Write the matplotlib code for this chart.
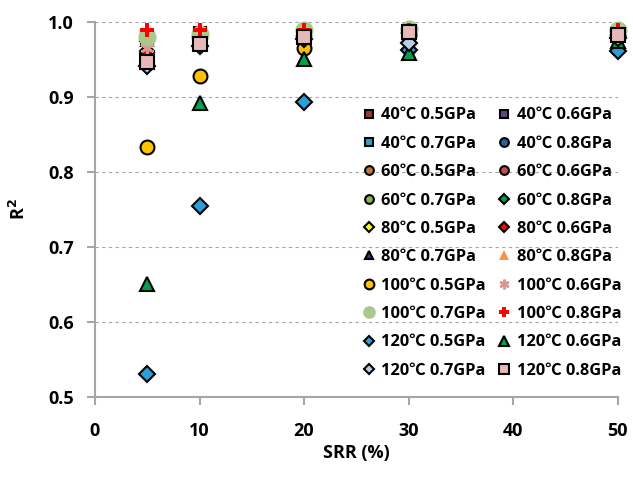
import numpy as np
import matplotlib
matplotlib.use('Agg')
import matplotlib.pyplot as plt

plt.rcParams['font.family'] = ['Open Sans', 'Noto Sans CJK SC', 'DejaVu Sans']
plt.rcParams['font.weight'] = 'bold'

# SRR (%)
srr = [5, 10, 20, 30, 50]

# R2 valori (serie coperte stimate sotto i marker visibili)
r_40_05 = [0.980, 0.985, 0.985, 0.988, 0.985]
r_40_06 = [0.978, 0.983, 0.984, 0.987, 0.984]
r_40_07 = [0.979, 0.984, 0.986, 0.988, 0.985]
r_40_08 = [0.981, 0.985, 0.986, 0.989, 0.986]
r_60_05 = [0.978, 0.982, 0.983, 0.986, 0.984]
r_60_06 = [0.979, 0.983, 0.985, 0.987, 0.985]
r_60_07 = [0.982, 0.986, 0.988, 0.990, 0.987]
r_60_08 = [0.975, 0.980, 0.982, 0.986, 0.983]
r_80_05 = [0.959, 0.978, 0.980, 0.985, 0.982]
r_80_06 = [0.962, 0.980, 0.982, 0.986, 0.983]
r_80_07 = [0.976, 0.981, 0.983, 0.986, 0.984]
r_80_08 = [0.977, 0.982, 0.984, 0.987, 0.984]
r_100_05 = [0.834, 0.928, 0.966, 0.983, 0.982]
r_100_06 = [0.966, 0.978, 0.981, 0.985, 0.983]
r_100_07 = [0.980, 0.984, 0.990, 0.991, 0.990]
r_100_08 = [0.989, 0.990, 0.989, 0.990, 0.989]
r_120_05 = [0.530, 0.755, 0.893, 0.963, 0.961]
r_120_06 = [0.650, 0.892, 0.951, 0.959, 0.975]
r_120_07 = [0.942, 0.968, 0.977, 0.972, 0.979]
r_120_08 = [0.947, 0.971, 0.980, 0.987, 0.983]

serie = [
    ('40℃ 0.5GPa', r_40_05, 's', '#953735', 'k', 9),
    ('40℃ 0.6GPa', r_40_06, 's', '#604A7B', 'k', 9),
    ('40℃ 0.7GPa', r_40_07, 's', '#31A0C0', 'k', 9),
    ('40℃ 0.8GPa', r_40_08, 'o', '#2F5F98', 'k', 9),
    ('60℃ 0.5GPa', r_60_05, 'o', '#C8783A', 'k', 9),
    ('60℃ 0.6GPa', r_60_06, 'o', '#C0504D', 'k', 9),
    ('60℃ 0.7GPa', r_60_07, 'o', '#8EB050', 'k', 9),
    ('60℃ 0.8GPa', r_60_08, 'D', '#00A050', 'k', 7),
    ('80℃ 0.5GPa', r_80_05, 'D', '#FFFF00', 'k', 7),
    ('80℃ 0.6GPa', r_80_06, 'D', '#FF0000', 'k', 7),
    ('80℃ 0.7GPa', r_80_07, '^', '#1F3D99', 'k', 9),
    ('80℃ 0.8GPa', r_80_08, '^', '#F79646', 'none', 10),
    ('100℃ 0.5GPa', r_100_05, 'o', '#FFC000', 'k', 10),
    ('100℃ 0.6GPa', r_100_06, (6, 2, 0), '#D99694', '#D99694', 10),
    ('100℃ 0.7GPa', r_100_07, 'o', '#A9C98A', 'none', 13),
    ('100℃ 0.8GPa', r_100_08, 'P', '#FF0000', 'none', 10),
    ('120℃ 0.5GPa', r_120_05, 'D', '#2A9FD8', 'k', 8),
    ('120℃ 0.6GPa', r_120_06, '^', '#00A050', 'k', 10),
    ('120℃ 0.7GPa', r_120_07, 'D', '#B9CDE5', 'k', 8),
    ('120℃ 0.8GPa', r_120_08, 's', '#E6B9B8', 'k', 10),
]

fig = plt.figure(figsize=(6.33, 4.8), dpi=100)
ax = fig.add_axes([0.150, 0.173, 0.826, 0.781])

handles = []
for nome, val, mk, fc, ec, ms in serie:
    mew = 1.5 if ec != 'none' else 0
    if mk == (6, 2, 0):
        mew = 1.8
    h, = ax.plot(srr, val, linestyle='none', marker=mk, markersize=ms,
                 markerfacecolor=fc, markeredgecolor=ec, markeredgewidth=mew,
                 label=nome, clip_on=False)
    handles.append(h)

ax.set_xlim(0, 50)
ax.set_ylim(0.5, 1.0)
ax.set_xticks([0, 10, 20, 30, 40, 50])
ax.set_yticks([0.5, 0.6, 0.7, 0.8, 0.9, 1.0])
ax.set_yticklabels(['0.5', '0.6', '0.7', '0.8', '0.9', '1.0'])
ax.tick_params(labelsize=13, length=6, width=1.5, color='#A6A6A6')
ax.tick_params(axis='x', pad=12)
ax.tick_params(axis='y', pad=9)
for t in ax.get_xticklabels() + ax.get_yticklabels():
    t.set_fontweight('bold')
ax.yaxis.grid(True, linestyle=(0, (3, 3)), color='#A6A6A6', linewidth=0.8)
ax.set_axisbelow(True)
for s in ['top', 'right']:
    ax.spines[s].set_visible(False)
for s in ['left', 'bottom']:
    ax.spines[s].set_color('#A6A6A6')
    ax.spines[s].set_linewidth(1.5)

ax.set_xlabel('SRR (%)', fontsize=13, fontweight='bold', labelpad=3)
ax.set_ylabel('R$^\\mathbf{2}$', fontsize=13, fontweight='bold', labelpad=14)

# legenda a due colonne, ordine per righe
ordine = handles[0::2] + handles[1::2]
leg = ax.legend(ordine, [h.get_label() for h in ordine], ncol=2, frameon=False,
                loc='upper left', bbox_to_anchor=(0.5, 0.79),
                prop={'size': 11.8, 'weight': 'bold'},
                markerscale=0.7, handlelength=0.7, handletextpad=0.4,
                columnspacing=0.8, labelspacing=0.755, borderaxespad=0)

fig.savefig('out.png', dpi=100)
